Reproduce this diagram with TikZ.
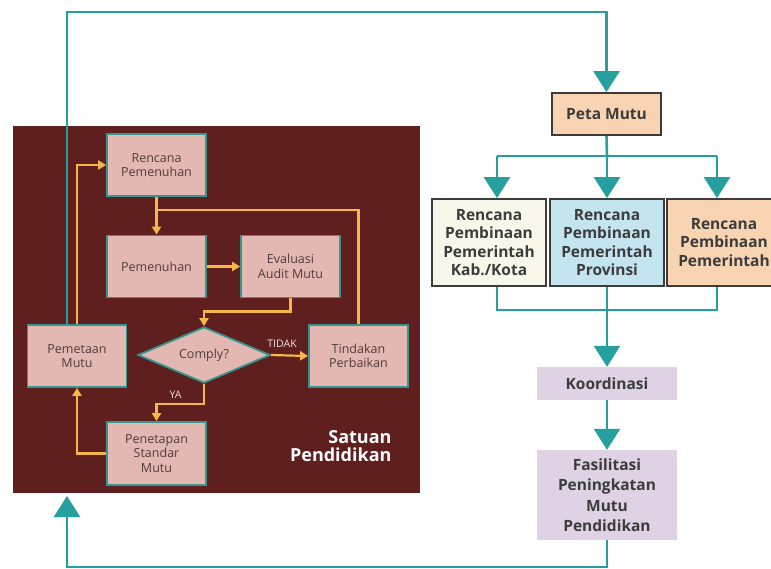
\documentclass[tikz,border=0pt]{standalone}
\usepackage{fontspec}
\setmainfont{Open Sans}
\usetikzlibrary{arrows.meta,positioning,calc,shapes.geometric}
\definecolor{tealline}{RGB}{38,160,158}
\definecolor{panelbrown}{RGB}{94,31,30}
\definecolor{boxpink}{RGB}{228,184,178}
\definecolor{boxteal}{RGB}{52,150,142}
\definecolor{flowyellow}{RGB}{246,182,72}
\definecolor{peach}{RGB}{249,212,178}
\definecolor{cream}{RGB}{248,248,234}
\definecolor{skyblue}{RGB}{196,229,240}
\definecolor{lavender}{RGB}{222,210,228}
\definecolor{boxgray}{RGB}{60,60,60}
\definecolor{pinktext}{RGB}{80,60,60}
\definecolor{flagtext}{RGB}{242,224,220}

\begin{document}
\begin{tikzpicture}[x=1pt,y=-1pt,
    sbox/.style={draw=boxteal,line width=1.8pt,fill=boxpink,minimum width=99pt,minimum height=62pt,
      align=center,text=pinktext,inner sep=2pt,font=\fontsize{12.5}{14.5}\selectfont},
    decision/.style={diamond,draw=boxteal,line width=1.8pt,fill=boxpink,minimum width=132pt,
      minimum height=56pt,aspect=2.4,inner sep=0pt,text=pinktext,font=\fontsize{12.5}{14.5}\selectfont},
    rbox/.style={draw=boxgray,line width=1.8pt,minimum width=114pt,minimum height=87pt,align=center,
      text=boxgray,inner sep=2pt,font=\bfseries\fontsize{15.5}{18.3}\selectfont},
    lbox/.style={fill=lavender,minimum width=140pt,minimum height=33pt,align=center,
      text=boxgray,inner sep=2pt,font=\bfseries\fontsize{15.5}{20.5}\selectfont},
    flag/.style={text=flagtext,font=\fontsize{10.5}{12}\selectfont,inner sep=2pt},
    unit/.style={anchor=east,align=right,text=white,font=\bfseries\fontsize{18}{18.5}\selectfont},
    yline/.style={draw=flowyellow,line width=2.2pt},
    yarr/.style={yline,-{Triangle[width=9pt,length=8pt]}},
    tline/.style={draw=tealline,line width=2.6pt},
    tarr/.style={tline,-{Triangle[width=26pt,length=21pt]}}
]
\useasboundingbox (0,0) rectangle (771,568);
\fill[white] (0,0) rectangle (771,568);

% Satuan Pendidikan panel
\fill[panelbrown] (13,126) rectangle (420,493);
\node[sbox] (plan) at (156.5,165) {Rencana\\Pemenuhan};
\node[sbox] (fulfil) at (156.5,266.5) {Pemenuhan};
\node[sbox] (audit) at (290.5,266.5) {Evaluasi\\Audit Mutu};
\node[sbox] (mapping) at (77,356) {Pemetaan\\Mutu};
\node[decision] (comply) at (204,355) {Comply?};
\node[sbox] (fix) at (358.5,356) {Tindakan\\Perbaikan};
\node[sbox,minimum height=63pt] (standard) at (156.5,453.5) {Penetapan\\Standar\\Mutu};
\node[unit] (unit) at (395,446) {Satuan\\Pendidikan};

\coordinate (join) at (156.5,210);
\draw[yarr] (mapping.north) |- (plan.west);
\draw[yarr] (plan.south) -- (fulfil.north);
\draw[yline] (fix.north) |- (join);
\draw[yarr] (fulfil.east) -- (audit.west);
\draw[yarr] (audit.south) -- ++(0,13) -| (comply.north);
\draw[yarr] (comply.east) -- node[flag,above=5pt,pos=0.3] {TIDAK} (fix.west);
\draw[yarr] (comply.south) -- ++(0,20) -| node[flag,above=2pt,pos=0.3] {YA} (standard.north);
\draw[yarr] (standard.west) -| (mapping.south);

% pembinaan side
\node[rbox,fill=peach,minimum width=109pt,minimum height=42pt] (peta) at (606.5,114) {Peta Mutu};
\node[rbox,fill=cream] (kab) at (489,242.5) {Rencana\\Pembinaan\\Pemerintah\\Kab./Kota};
\node[rbox,fill=skyblue] (prov) at (607,242.5) {Rencana\\Pembinaan\\Pemerintah\\Provinsi};
\node[rbox,fill=peach] (pusat) at (724,242.5) {Rencana\\Pembinaan\\Pemerintah};
\node[lbox] (koord) at (607,383.5) {Koordinasi};
\node[lbox,minimum height=90pt] (fasil) at (607,495) {Fasilitasi\\Peningkatan\\Mutu\\Pendidikan};

\coordinate (split) at (607,156);
\coordinate (hl) at (497,156);
\coordinate (hr) at (717,156);
\coordinate (merge) at (607,310);
\coordinate (ml) at (497,310);
\coordinate (mr) at (717,310);
\draw[tline] (peta.south) -- (split);
\draw[tline] (hl) -- (hr);
\draw[tarr] (hl) -- (hl |- kab.north);
\draw[tarr] (split) -- (prov.north);
\draw[tarr] (hr) -- (hr |- pusat.north);
\draw[tline,line join=miter] (kab.south -| ml) -- (ml) -- (mr) -- (pusat.south -| mr);
\draw[tline] (prov.south) -- (merge);
\draw[tarr] (merge) -- (koord.north);
\draw[tarr] (koord.south) -- (fasil.north);

% feedback loop
\coordinate (topleft) at (67,12);
\coordinate (botleft) at (67,567);
\coordinate (back) at (67,496);
\draw[tarr] ([xshift=-10pt]mapping.north) -- (topleft) -| (peta.north);
\draw[tarr] (fasil.south) |- (botleft) -- (back);
\end{tikzpicture}
\end{document}
